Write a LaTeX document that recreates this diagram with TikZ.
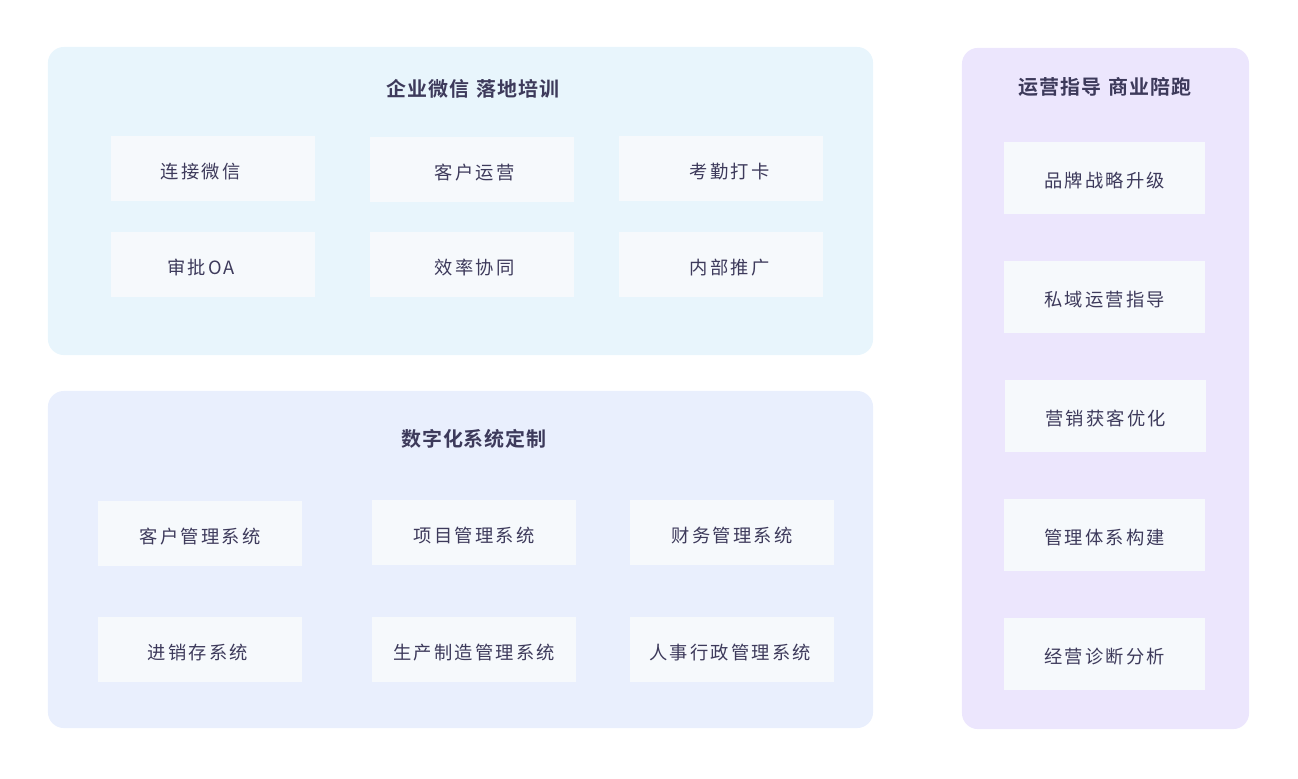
\documentclass[tikz,border=0pt]{standalone}
\usepackage{fontspec}
\usepackage{tikz}
\usetikzlibrary{positioning}
\newfontfamily\cjk[LetterSpace=12]{Noto Sans CJK SC}
\newfontfamily\cjkbold[LetterSpace=5]{Noto Sans CJK SC Bold}
\newcommand{\nudge}[1]{\hspace*{#1}}
\definecolor{inkc}{HTML}{3D3A5B}
\definecolor{panelblue}{HTML}{E8F5FC}
\definecolor{panelsky}{HTML}{E9EFFD}
\definecolor{panellilac}{HTML}{ECE6FD}
\definecolor{boxfill}{HTML}{F6F9FC}

\begin{document}
\begin{tikzpicture}[
    x=0.025cm, y=-0.025cm,
    panel/.style={rectangle, rounded corners=0.4cm, inner sep=0pt},
    box/.style={rectangle, fill=boxfill, minimum width=5.1cm, minimum height=1.625cm, inner sep=0pt,
        text height=0.55cm, text depth=0.05cm, font=\cjk\fontsize{13}{15}\selectfont, text=inkc},
    sidebox/.style={box, minimum width=5.025cm, minimum height=1.8cm, text height=0.52cm},
    title/.style={font=\cjkbold\fontsize{14.2}{16}\selectfont, text=inkc, inner sep=0pt}
]
\useasboundingbox (0,0) rectangle (1298,778);

% Panels
\node[panel, fill=panelblue, minimum width=20.625cm, minimum height=7.7cm] (wework) at (460.5,201) {};
\node[panel, fill=panelsky, minimum width=20.625cm, minimum height=8.425cm] (digital) at (460.5,559.5) {};
\node[panel, fill=panellilac, minimum width=7.175cm, minimum height=17.025cm] (coach) at (1105.5,388.5) {};

% Titles
\node[title] (weworktitle) at (473,89) {企业微信\hspace{0.2cm}落地培训};
\node[title] (digitaltitle) at (474,439) {数字化系统定制};
\node[title] (coachtitle) at (1105,87) {运营指导\hspace{0.2cm}商业陪跑};

% WeWork training
\node[box] (w1) at (213,168.5) {\nudge{-0.62cm}连接微信};
\node[box] (w2) at (472,169.5) {\nudge{0.13cm}客户运营};
\node[box] (w3) at (721,168.5) {\nudge{0.43cm}考勤打卡};
\node[box] (w4) at (213,264.5) {\nudge{-0.6cm}审批OA};
\node[box] (w5) at (472,264.5) {\nudge{0.13cm}效率协同};
\node[box] (w6) at (721,264.5) {\nudge{0.43cm}内部推广};

% Custom systems
\node[box] (d1) at (200,533.5) {客户管理系统};
\node[box] (d2) at (474,532.5) {项目管理系统};
\node[box] (d3) at (732,532.5) {财务管理系统};
\node[box] (d4) at (200,649.5) {\nudge{-0.1cm}进销存系统};
\node[box] (d5) at (474,649.5) {生产制造管理系统};
\node[box] (d6) at (732,649.5) {\nudge{-0.1cm}人事行政管理系统};

% Coaching
\node[sidebox] (c1) at (1104.5,178) {品牌战略升级};
\node[sidebox] (c2) at (1104.5,297) {私域运营指导};
\node[sidebox] (c3) at (1105.5,416) {营销获客优化};
\node[sidebox] (c4) at (1104.5,535) {管理体系构建};
\node[sidebox] (c5) at (1104.5,654) {经营诊断分析};

\end{tikzpicture}
\end{document}
